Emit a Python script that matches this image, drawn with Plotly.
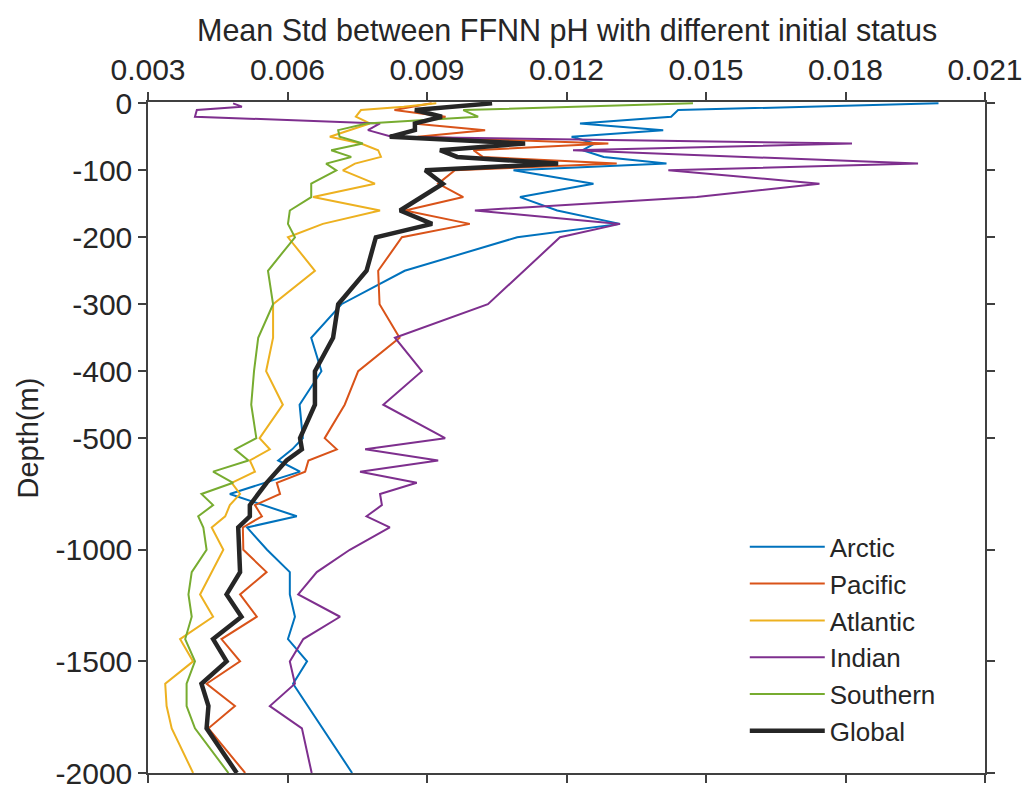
import plotly.graph_objects as go

# Depth levels (m, positive downward)
depth = [0, 5, 10, 20, 30, 40, 50, 60, 70, 80, 90, 100, 120, 140, 160, 180, 200,
         250, 300, 350, 400, 450, 500, 550, 600, 650, 700, 750, 800, 850, 900,
         1000, 1100, 1200, 1300, 1400, 1500, 1600, 1700, 1800, 2000]

arctic = [0.0200, None, 0.0144, 0.01425, 0.01229, 0.01408, 0.01211, 0.0126, 0.01235, 0.0128,
          0.01415, 0.01086, 0.01258, 0.0110, 0.0118, 0.01315, 0.01094,
          0.00852, 0.00716, 0.00651, 0.00673, 0.00626, 0.00633, 0.0061, 0.0058, 0.00627,
          None, 0.00476, None, 0.0062, 0.00513,
          0.00556, 0.00605, 0.00605, 0.00616, 0.00601, 0.00642, 0.00612, None, None, 0.00739]

pacific = [0.0091, None, 0.0083, 0.0094, 0.0087, 0.01025, 0.0088, 0.0129, 0.0100, 0.0102,
           0.01308, 0.0096, 0.00924, 0.00978, 0.00853, 0.00992, 0.00846,
           0.00795, 0.00798, 0.00841, 0.00752, 0.00723, 0.0068, 0.00706, 0.00645, 0.00638,
           0.00577, 0.00584, 0.0053, 0.00545, 0.00504,
           0.00505, 0.00555, 0.00498, 0.00534, 0.00458, 0.00498, 0.00426, 0.00487, 0.0043, 0.00509]

atlantic = [0.0092, 0.0085, 0.00758, 0.00747, 0.00777, None, 0.00691, 0.00758, 0.00795, 0.00801,
            0.00745, 0.00719, 0.00788, 0.00655, 0.00799, 0.00676, 0.00601,
            0.00659, 0.00569, 0.00569, 0.00554, 0.0059, 0.0054, 0.00562, 0.00519, 0.0053,
            0.0048, 0.00498, 0.00476, 0.00466, 0.00437,
            0.00462, None, 0.00412, 0.0044, 0.00369, 0.00397, 0.00337, 0.0034, 0.00351, 0.00397]

indian = [0.00483, 0.00502, 0.00405, 0.00401, 0.00799, 0.00773, 0.00824, 0.01814, 0.01214, None,
          0.01956, 0.01419, 0.01744, 0.0148, 0.01003, 0.01315, 0.01186,
          None, 0.01031, 0.00831, 0.00889, 0.00806, 0.00939, 0.00767, 0.00924, 0.00756,
          0.00878, 0.00799, 0.00803, 0.0077, 0.0082,
          0.00734, 0.00663, 0.00623, 0.00713, 0.00634, 0.00605, 0.00616, 0.00562, 0.00631, 0.00652]

southern = [0.01472, None, 0.00978, 0.0101, 0.0077, 0.00709, 0.00712, 0.00762, 0.00694, 0.00737,
            0.00683, 0.00705, 0.00651, 0.00651, 0.00605, 0.00601, 0.00616,
            0.00558, 0.00569, 0.00537, 0.00528, 0.00522, 0.00533, 0.00487, 0.00516, 0.0044,
            0.00483, 0.00415, 0.0044, 0.00408, 0.00419,
            0.00426, 0.00394, 0.00387, 0.00394, 0.0038, 0.00401, 0.00383, 0.00383, 0.00401, 0.00473]

global_ = [0.0104, None, 0.00874, 0.00932, 0.00874, 0.00874, 0.0082, 0.01111, 0.00928, 0.00965,
           0.01182, 0.00896, 0.00934, None, 0.00842, 0.00911, 0.0079,
           0.0077, 0.00709, 0.00698, 0.00659, 0.00659, 0.00627, 0.00631, 0.00598, None,
           0.00555, None, 0.00519, 0.00519, 0.00494,
           None, 0.00498, 0.00469, 0.00501, 0.0044, 0.00469, 0.00415, 0.0043, 0.00426, 0.00491]

x_ticks = [0.003, 0.006, 0.009, 0.012, 0.015, 0.018, 0.021]
y_tick_depths = [0, 100, 200, 300, 400, 500, 1000, 1500, 2000]
y_tick_labels = ["0", "-100", "-200", "-300", "-400", "-500", "-1000", "-1500", "-2000"]

series_names = ["Arctic", "Pacific", "Atlantic", "Indian", "Southern", "Global"]
series_values = [arctic, pacific, atlantic, indian, southern, global_]
colors = ["#0072BD", "#D95319", "#EDB120", "#7E2F8E", "#77AC30", "#262626"]
widths = [2, 2, 2, 2, 2, 4.5]

x_title = "Mean Std between FFNN pH with different initial status"
y_title = "Depth(m)"


def depth_axis(d):
    # piecewise axis: upper 500 m stretched 3x relative to deeper layer
    return d if d <= 500 else 500 + (d - 500) / 3.0


y_pos = [depth_axis(d) for d in depth]

fig = go.Figure()
for name, vals, col, w in zip(series_names, series_values, colors, widths):
    fig.add_trace(go.Scatter(x=vals, y=y_pos, mode="lines", name=name,
                             line=dict(color=col, width=w), connectgaps=True))

axis_col = "#404040"
txt_col = "#262626"
fig.update_layout(
    width=1023, height=787,
    margin=dict(l=148, r=38, t=102, b=14),
    paper_bgcolor="white", plot_bgcolor="white",
    font=dict(family="Liberation Sans, Arial, sans-serif", size=30, color=txt_col),
    showlegend=True,
    legend=dict(x=0.713, y=0.372, xanchor="left", yanchor="top",
                bgcolor="rgba(255,255,255,1)", font=dict(size=26),
                tracegroupgap=0, itemwidth=75),
    xaxis=dict(side="top", range=[0.003, 0.021], tickvals=x_ticks, tickformat=".3f",
               ticks="outside", ticklen=8, tickwidth=1.5, tickcolor=axis_col,
               showline=True, linecolor=axis_col, linewidth=1.5, mirror="allticks",
               showgrid=False, zeroline=False, automargin=False,
               ticklabeloverflow="allow", tickfont=dict(size=30)),
    yaxis=dict(range=[1000, -2], tickvals=[depth_axis(d) for d in y_tick_depths],
               ticktext=y_tick_labels, automargin=False, ticklabeloverflow="allow",
               ticks="outside", ticklen=8, tickwidth=1.5, tickcolor=axis_col,
               showline=True, linecolor=axis_col, linewidth=1.5, mirror="allticks",
               showgrid=False, zeroline=False, tickfont=dict(size=30)),
    annotations=[
        dict(text=x_title, xref="paper", yref="paper", x=0.5, y=1.107,
             xanchor="center", yanchor="middle", showarrow=False,
             font=dict(size=30.5, color=txt_col)),
        dict(text=y_title, xref="paper", yref="paper", x=-0.1434, y=0.5,
             xanchor="center", yanchor="middle", showarrow=False, textangle=-90,
             font=dict(size=29, color=txt_col)),
    ],
)

fig.write_html("out.html", config={"displayModeBar": False},
               post_script="document.body.style.margin='0';document.body.style.overflow='hidden';")
